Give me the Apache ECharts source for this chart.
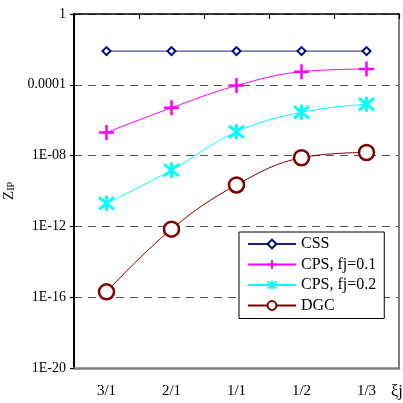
<!DOCTYPE html>
<html>
<head>
<meta charset="utf-8">
<script src="https://cdn.jsdelivr.net/npm/echarts@6/dist/echarts.min.js"></script>
<style>html,body{margin:0;padding:0;background:#fff;}#c{width:403px;height:403px;}</style>
</head>
<body>
<div id="c"></div>
<script>
const categories = ['3/1', '2/1', '1/1', '1/2', '1/3'];
const cssValues = [0.008, 0.008, 0.008, 0.008, 0.008];
const cps01Values = [2e-7, 5e-6, 9e-5, 5.5e-4, 7.8e-4];
const cps02Values = [2e-11, 1.5e-9, 2.2e-7, 2.8e-6, 8e-6];
const dgcValues = [2e-16, 7e-13, 2.2e-10, 7.6e-9, 1.5e-8];
const yTickLabels = { '0': '1', '-4': '0.0001', '-8': '1E-08', '-12': '1E-12', '-16': '1E-16', '-20': '1E-20' };

const FONT = 'Liberation Serif';
const plusPath = 'path://M0,-1L0,1M-1,0L1,0';
const starPath = 'path://M0,-1L0,1M-0.8,-0.8L0.8,0.8M-0.8,0.8L0.8,-0.8';

const chart = echarts.init(document.getElementById('c'));
chart.setOption({
  animation: false,
  backgroundColor: '#fff',
  grid: { left: 74, right: 4, top: 14, bottom: 35, containLabel: false, outerBoundsMode: 'none' },
  legend: {
    orient: 'vertical', left: 239, top: 232,
    backgroundColor: '#fff', borderColor: '#000', borderWidth: 1,
    padding: [4, 8, 5, 8], itemWidth: 48, itemHeight: 11, itemGap: 4.5,
    textStyle: { fontFamily: FONT, fontSize: 16, color: '#000' },
    data: ['CSS', 'CPS, fj=0.1', 'CPS, fj=0.2', 'DGC']
  },
  xAxis: [{
    type: 'category', data: categories, position: 'bottom',
    axisLine: { lineStyle: { color: '#808080', width: 2.5 } },
    axisTick: { show: false },
    axisLabel: { fontFamily: FONT, fontSize: 15, color: '#000', margin: 16 },
    name: 'ξj', nameLocation: 'end', nameGap: -8,
    nameTextStyle: { fontFamily: FONT, fontSize: 16, color: '#000', verticalAlign: 'top', padding: [16, 0, 0, 0] }
  }, {
    type: 'category', data: categories, position: 'top',
    axisLine: { lineStyle: { color: '#000', width: 1.5 } },
    axisTick: { show: true, inside: true, length: 5, lineStyle: { color: '#000', width: 1.2 } },
    axisLabel: { show: false }
  }],
  yAxis: [{
    type: 'log', logBase: 10, min: 1e-20, max: 1, interval: 4,
    position: 'left',
    axisLine: { show: true, lineStyle: { color: '#000', width: 2 } },
    axisTick: { show: true, length: 4, lineStyle: { color: '#000', width: 1.2 } },
    axisLabel: {
      fontFamily: FONT, fontSize: 14, color: '#000', margin: 8,
      formatter: v => yTickLabels[String(Math.round(Math.log10(v)))] || ''
    },
    splitLine: { show: true, lineStyle: { color: '#555', width: 1, type: [8, 6] } },
    name: 'Z{s|IP}', nameLocation: 'middle', nameGap: 56, nameRotate: 90,
    nameTextStyle: {
      fontFamily: FONT, fontSize: 15, color: '#000',
      rich: { s: { fontFamily: FONT, fontSize: 10, color: '#000', verticalAlign: 'bottom', padding: [6, 0, 0, 0] } }
    }
  }, {
    type: 'log', logBase: 10, min: 1e-20, max: 1, interval: 4,
    position: 'right',
    axisLine: { show: true, lineStyle: { color: '#808080', width: 2 } },
    axisTick: { show: false }, axisLabel: { show: false }, splitLine: { show: false }
  }],
  series: [{
    name: 'CSS', type: 'line', data: cssValues,
    symbol: 'diamond', symbolSize: 8, smooth: false,
    lineStyle: { color: '#1f1f80', width: 1 },
    itemStyle: { color: '#fff', borderColor: '#000080', borderWidth: 2 },
    z: 5
  }, {
    name: 'CPS, fj=0.1', type: 'line', data: cps01Values,
    symbol: plusPath, symbolSize: 15, smooth: 0.4,
    lineStyle: { color: '#ff00ff', width: 1 },
    itemStyle: { color: '#ff00ff', borderColor: '#ff00ff', borderWidth: 2.5 }
  }, {
    name: 'CPS, fj=0.2', type: 'line', data: cps02Values,
    symbol: starPath, symbolSize: 15, smooth: 0.4,
    lineStyle: { color: '#00ffff', width: 1 },
    itemStyle: { color: '#00ffff', borderColor: '#00ffff', borderWidth: 3 }
  }, {
    name: 'DGC', type: 'line', data: dgcValues,
    symbol: 'circle', symbolSize: 15, smooth: 0.4,
    lineStyle: { color: '#800000', width: 1 },
    itemStyle: { color: '#fff', borderColor: '#800000', borderWidth: 2.5 }
  }]
});
</script>
</body>
</html>
